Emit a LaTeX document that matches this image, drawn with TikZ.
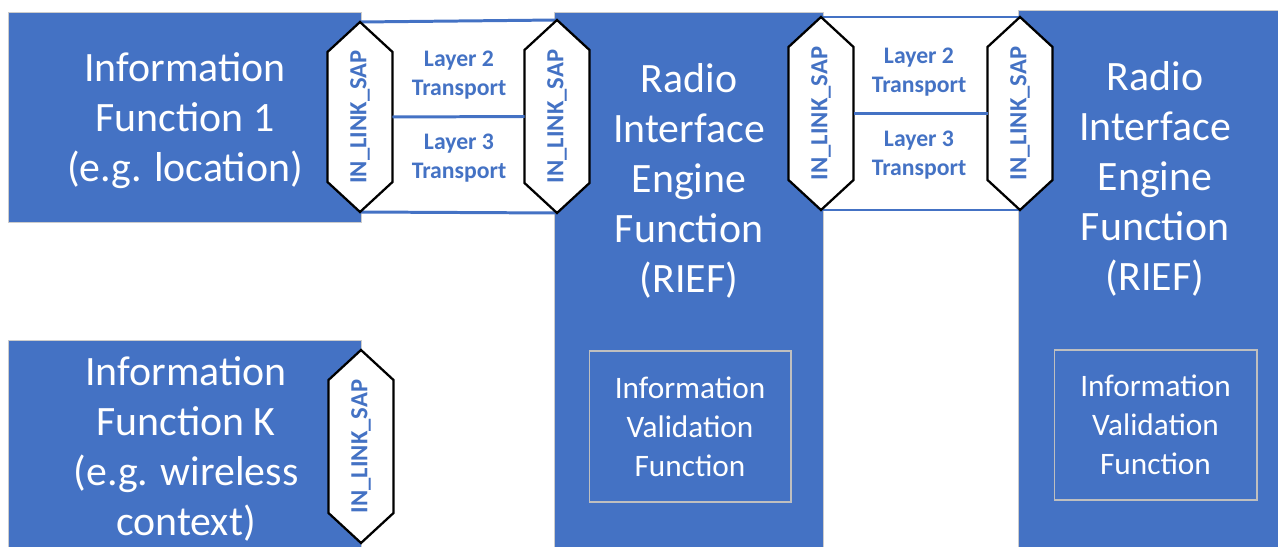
\documentclass[tikz,border=0pt]{standalone}
\usepackage{fontspec}
\setmainfont{Carlito}
\usetikzlibrary{positioning}
\definecolor{ieblue}{RGB}{68,114,196}

\begin{document}
\begin{tikzpicture}[x=0.02cm, y=-0.02cm,
    block/.style={rectangle, fill=ieblue, draw=black!20, line width=0.4pt, inner sep=0},
    maintext/.style={text=white, align=center, font=\fontsize{23.8}{28.45}\selectfont},
    inbox/.style={rectangle, draw=black!25, line width=0.6pt, inner sep=0, text=white, align=center, font=\fontsize{17.8}{22.2}\selectfont},
    link/.style={ieblue, line width=1.7pt},
    saphex/.style={draw=black, fill=white, line width=1.3pt, line join=miter},
    saplabel/.style={rotate=90, inner sep=0, text=ieblue, font=\fontsize{14}{16}\selectfont\bfseries},
    layer/.style={text=ieblue, align=center, font=\fontsize{13.5}{16.5}\selectfont\bfseries}]
        \useasboundingbox (0,0) rectangle (1278,547);

        % nodes %
        \node[block, minimum width=7.06cm, minimum height=4.2cm] (if1) at (184.5,117) {};
        \node[block, minimum width=7.06cm, minimum height=4.14cm] (ifk) at (184.5,443.5) {};
        \node[maintext] (if1t) at (185,121) {Information\\Function 1\\(e.g. location)};
        \node[maintext] (ifkt) at (186,449) {Information\\Function K\\(e.g. wireless\\context)};
        \node[maintext] (dots) at (192,268) {...};

        \node[block, minimum width=5.38cm, minimum height=10.7cm] (rief1) at (688.5,279.5) {};
        \node[block, minimum width=5.2cm, minimum height=10.74cm] (rief2) at (1148.5,278.5) {};
        \node[maintext] (t1) at (689,181) {Radio\\Interface\\Engine\\Function\\(RIEF)};
        \node[maintext] (t2) at (1155,179) {Radio\\Interface\\Engine\\Function\\(RIEF)};
        \node[inbox, minimum width=4.04cm, minimum height=3.02cm] (ivf1) at (690,426.5) {Information\\Validation\\Function};
        \node[inbox, minimum width=4.06cm, minimum height=3cm] (ivf2) at (1155.5,425) {Information\\Validation\\Function};

        % edges %
        \draw[link] (360,22) coordinate (sat) -- (557,20) coordinate (sbt);
        \draw[link] (360,212) coordinate (sab) -- (557,213) coordinate (sbb);
        \draw[link] (821,17) coordinate (sct) -- (1020,17) coordinate (sdt);
        \draw[link] (821,210) coordinate (scb) -- (1020,210) coordinate (sdb);

        % SAPs %
        \foreach \n/\x/\t/\b in {sa/360/22/212, sb/557/20/213, sc/821/17/210, sd/1020/17/210, se/361/350/543} {
            \draw[saphex] (\x,\t) -- (\x+32.5,\t+30) -- (\x+32.5,\b-30) -- (\x,\b) -- (\x-32.5,\b-30) -- (\x-32.5,\t+30) -- cycle;
            \node[saplabel] (\n) at (\x,{(\t+\b)/2}) {IN\_LINK\_SAP};
        }

        \draw[link] ([xshift=0.65cm]sa.center) -- ([xshift=-0.65cm]sb.center);
        \draw[link] ([xshift=0.65cm]sc.center) -- ([xshift=-0.65cm]sd.center);

        \node[layer] (l2a) at (459,75) {Layer 2\\Transport};
        \node[layer] (l3a) at (459,158) {Layer 3\\Transport};
        \node[layer] (l2b) at (919,72) {Layer 2\\Transport};
        \node[layer] (l3b) at (919,155) {Layer 3\\Transport};
      \end{tikzpicture}
\end{document}
